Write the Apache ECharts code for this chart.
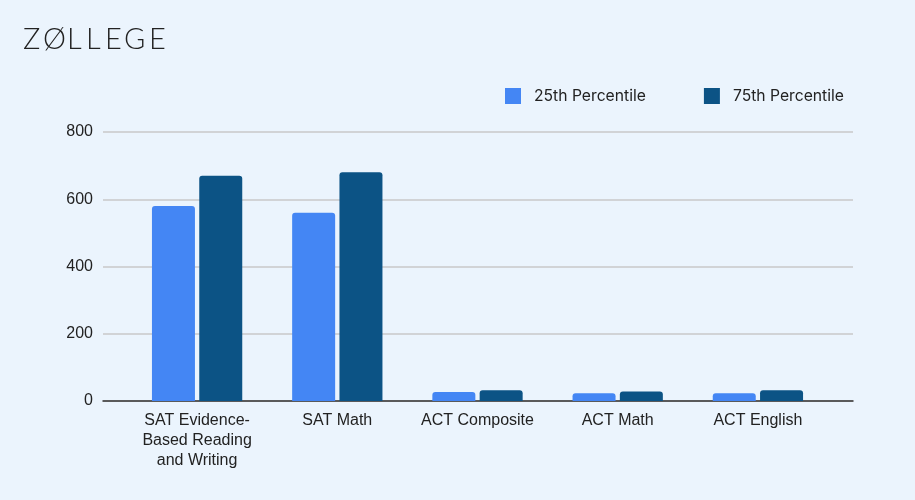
<!DOCTYPE html>
<html><head><meta charset="utf-8">
<script src="https://cdn.jsdelivr.net/npm/echarts@6/dist/echarts.min.js"></script>
<style>html,body{margin:0;padding:0;background:#EBF4FD;}#c{width:915px;height:500px;}</style>
</head><body><div id="c"></div>
<script>
const categories = ["SAT Evidence-\nBased Reading\nand Writing", "SAT Math", "ACT Composite", "ACT Math", "ACT English"];
const p25 = [580, 560, 27, 23, 23];
const p75 = [670, 680, 32, 28, 32];
const yTicks = [0, 200, 400, 600, 800];
const seriesNames = ["25th Percentile", "75th Percentile"];
const logoLetters = ["Z", "Ø", "L", "L", "E", "G", "E"];
const logoX = [23, 43, 67, 86, 105, 124, 149];

const chart = echarts.init(document.getElementById('c'), null, {renderer: 'canvas'});
const labelFont = {fontFamily: 'Liberation Sans, Arial', fontSize: 16, color: '#222'};
chart.setOption({
  backgroundColor: '#EBF4FD',
  animation: false,
  graphic: logoLetters.map((ch, i) => ({
    type: 'text', left: logoX[i], top: 25,
    style: {text: ch, font: '300 29px Lato', fill: '#222'}
  })),
  legend: {
    top: 83, left: 500, itemWidth: 16, itemHeight: 16, itemGap: 58,
    icon: 'rect',
    textStyle: {fontFamily: 'Inter', fontSize: 15.7, color: '#222', padding: [0, 0, 0, 8]},
    data: seriesNames
  },
  grid: [
    {left: 103, right: 62, top: 132, bottom: 99},
    {left: 127, right: 87, top: 132, bottom: 99}
  ],
  xAxis: [
    {type: 'category', gridIndex: 0, data: categories,
     axisLine: {lineStyle: {color: '#333', width: 1.5}},
     axisTick: {show: false}, axisLabel: {show: false}},
    {type: 'category', gridIndex: 1, data: categories,
     axisLine: {show: false}, axisTick: {show: false},
     axisLabel: Object.assign({lineHeight: 20, margin: 10, interval: 0}, labelFont)}
  ],
  yAxis: [
    {type: 'value', gridIndex: 0, min: yTicks[0], max: yTicks[yTicks.length - 1], interval: 200,
     axisLine: {show: false}, axisTick: {show: false},
     splitLine: {lineStyle: {color: '#c8c8c8', width: 1.5}},
     axisLabel: Object.assign({margin: 10}, labelFont)},
    {type: 'value', gridIndex: 1, min: yTicks[0], max: yTicks[yTicks.length - 1], interval: 200,
     show: false, splitLine: {show: false}}
  ],
  series: [
    {name: seriesNames[0], type: 'bar', xAxisIndex: 1, yAxisIndex: 1, data: p25, barWidth: 43, barGap: '10%', z: 3,
     itemStyle: {color: '#4486F4', borderRadius: [3, 3, 0, 0]}},
    {name: seriesNames[1], type: 'bar', xAxisIndex: 1, yAxisIndex: 1, data: p75, barWidth: 43, z: 3,
     itemStyle: {color: '#0C5385', borderRadius: [3, 3, 0, 0]}}
  ]
});
</script></body></html>
